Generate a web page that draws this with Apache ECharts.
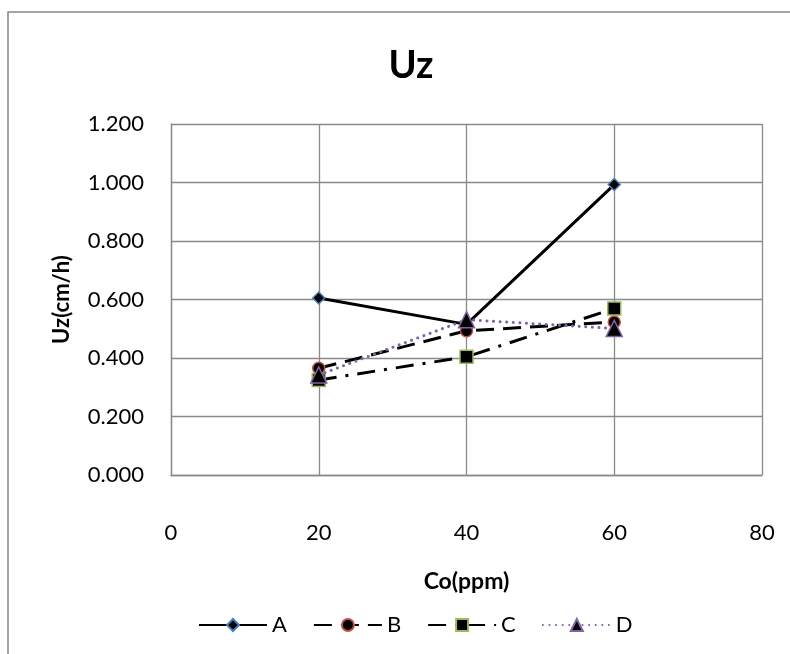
<!DOCTYPE html>
<html>
<head>
<meta charset="utf-8">
<title>Uz</title>
<script src="https://cdn.jsdelivr.net/npm/echarts@6/dist/echarts.min.js"></script>
<style>
  html, body { margin: 0; padding: 0; background: #ffffff; }
  #chart { width: 790px; height: 654px; }
</style>
</head>
<body>
<div id="chart"></div>
<script>
// Concentration of Co (ppm) on the x axis
const coValues = [20, 40, 60];

// Uz (cm/h) for each series
const seriesA = [0.605, 0.515, 0.993];
const seriesB = [0.365, 0.493, 0.523];
const seriesC = [0.325, 0.404, 0.569];
const seriesD = [0.342, 0.531, 0.501];

const seriesNames = ['A', 'B', 'C', 'D'];

const FONT = 'Lato, "Noto Sans", sans-serif';

function pairs(values) {
  return coValues.map((x, i) => [x, values[i]]);
}

const chart = echarts.init(document.getElementById('chart'), null, { renderer: 'canvas' });

chart.setOption({
  backgroundColor: '#ffffff',
  animation: false,
  textStyle: { fontFamily: FONT },
  graphic: [{
    type: 'rect',
    shape: { x: 8, y: 12, width: 820, height: 700 },
    style: { fill: 'none', stroke: '#868686', lineWidth: 1.5 },
    silent: true,
    z: -10
  }],
  title: {
    text: 'Uz',
    left: 406,
    top: 42,
    textAlign: 'center',
    textStyle: { fontFamily: FONT, fontSize: 38, fontWeight: 'bold', color: '#000' }
  },
  legend: {
    data: seriesNames,
    left: 193,
    top: 609,
    itemWidth: 68,
    itemHeight: 15,
    itemGap: 26,
    textStyle: { fontFamily: FONT, fontSize: 22, color: '#000' }
  },
  grid: { left: 171, right: 28, top: 124, bottom: 179, containLabel: false },
  xAxis: {
    type: 'value',
    min: 0,
    max: 80,
    interval: 20,
    name: 'Co(ppm)',
    nameLocation: 'middle',
    nameGap: 95,
    nameMoveOverlap: false,
    nameTextStyle: { fontFamily: FONT, fontSize: 23, fontWeight: 'bold', color: '#000' },
    axisLine: { show: true, lineStyle: { color: '#8a8a8a', width: 1.3 } },
    axisTick: { show: false },
    axisLabel: { fontFamily: FONT, fontSize: 22, color: '#000', margin: 47 },
    splitLine: { show: true, lineStyle: { color: '#8a8a8a', width: 1.3 } }
  },
  yAxis: {
    type: 'value',
    min: 0,
    max: 1.2,
    interval: 0.2,
    name: 'Uz(cm/h)',
    nameLocation: 'middle',
    nameGap: 98,
    nameRotate: 90,
    nameMoveOverlap: false,
    nameTextStyle: { fontFamily: FONT, fontSize: 22, fontWeight: 'bold', color: '#000' },
    axisLine: { show: true, lineStyle: { color: '#8a8a8a', width: 1.3 } },
    axisTick: { show: false },
    axisLabel: {
      fontFamily: FONT, fontSize: 22, color: '#000', margin: 27,
      formatter: v => v.toFixed(3)
    },
    splitLine: { show: true, lineStyle: { color: '#8a8a8a', width: 1.3 } }
  },
  series: [
    {
      name: 'A',
      type: 'line',
      data: pairs(seriesA),
      symbol: 'diamond',
      symbolSize: 12,
      itemStyle: { color: '#000', borderColor: '#4A7EBB', borderWidth: 1.5 },
      lineStyle: { color: '#000', width: 3, type: 'solid' },
      z: 2
    },
    {
      name: 'B',
      type: 'line',
      data: pairs(seriesB),
      symbol: 'circle',
      symbolSize: 12,
      itemStyle: { color: '#000', borderColor: '#C0504D', borderWidth: 1.5 },
      lineStyle: { color: '#000', width: 3, type: [18, 9] },
      z: 3
    },
    {
      name: 'C',
      type: 'line',
      data: pairs(seriesC),
      symbol: 'rect',
      symbolSize: 13,
      itemStyle: { color: '#000', borderColor: '#9BBB59', borderWidth: 1.5 },
      lineStyle: { color: '#000', width: 3, type: [18, 9, 3, 9] },
      z: 4
    },
    {
      name: 'D',
      type: 'line',
      data: pairs(seriesD),
      symbol: 'triangle',
      symbolSize: 16,
      itemStyle: { color: '#000', borderColor: '#8064A2', borderWidth: 1.5 },
      lineStyle: { color: '#8064A2', width: 3, type: [0.1, 6.5], cap: 'round' },
      z: 5
    }
  ]
});
</script>
</body>
</html>
